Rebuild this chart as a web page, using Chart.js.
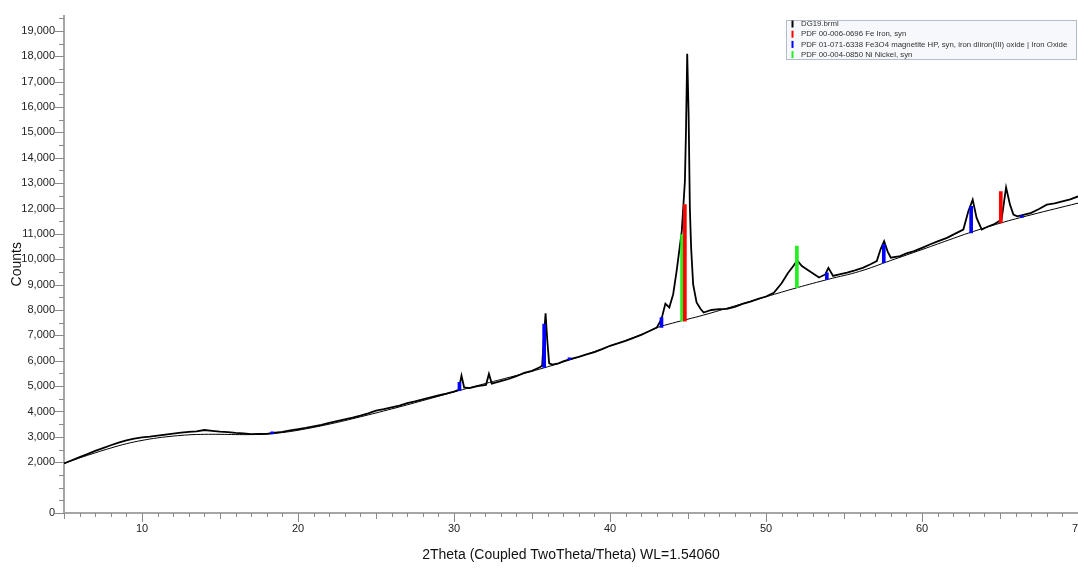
<!DOCTYPE html>
<html>
<head>
<meta charset="utf-8">
<script src="https://cdn.jsdelivr.net/npm/chart.js@4.4.1/dist/chart.umd.min.js"></script>
<style>
  html, body { margin: 0; padding: 0; background: #fff; }
  #wrap { width: 1078px; height: 569px; position: relative; }
</style>
</head>
<body>
<div id="wrap"><canvas id="xrd"></canvas></div>
<script>
const scanAngle = [
  5.0, 5.5, 6.0, 6.5, 7.0, 7.5, 8.0, 8.5, 9.0, 9.5, 10.0, 10.5, 11.0, 11.5, 12.0, 12.5,
  13.0, 13.5, 14.0, 14.5, 15.0, 15.5, 16.0, 16.5, 17.0, 17.5, 18.0, 18.4, 19.0, 19.5,
  20.0, 20.5, 21.0, 21.5, 22.0, 22.5, 23.0, 23.5, 24.0, 24.5, 25.0, 25.5, 26.0, 26.5,
  27.0, 27.5, 28.0, 28.5, 29.0, 29.5, 30.0, 30.3, 30.48, 30.65, 31.0, 31.5, 32.05, 32.24,
  32.42, 33.0, 33.5, 34.0, 34.5, 35.0, 35.5, 35.65, 35.75, 35.87, 35.98, 36.1, 36.3, 36.7,
  37.0, 37.5, 38.0, 38.5, 39.0, 39.5, 40.0, 40.5, 41.0, 41.5, 42.0, 42.5, 43.0, 43.3,
  43.55, 43.8, 44.05, 44.27, 44.6, 44.8, 44.87, 44.95, 45.04, 45.12, 45.2, 45.33, 45.55,
  45.8, 46.0, 46.5, 47.0, 47.5, 48.0, 48.5, 49.0, 49.5, 50.0, 50.5, 51.0, 51.4, 51.75,
  52.0, 52.3, 52.8, 53.4, 53.8, 54.0, 54.3, 54.7, 55.2, 55.7, 56.2, 56.7, 57.1, 57.35,
  57.57, 57.8, 58.0, 58.6, 59.0, 59.5, 60.0, 60.5, 61.0, 61.6, 62.1, 62.65, 62.97, 63.25,
  63.5, 63.83, 64.2, 64.6, 65.1, 65.39, 65.64, 65.86, 66.1, 66.5, 67.0, 67.5, 68.0, 68.5,
  69.0, 69.5, 70.0
];
const scanCounts = [
  1950, 2080, 2200, 2320, 2450, 2560, 2670, 2770, 2860, 2930, 2980, 3010, 3050, 3090, 3130, 3170,
  3200, 3220, 3270, 3240, 3210, 3190, 3160, 3140, 3110, 3120, 3120, 3160, 3200, 3260,
  3300, 3350, 3410, 3470, 3550, 3620, 3690, 3760, 3840, 3930, 4030, 4090, 4160, 4230,
  4330, 4400, 4480, 4560, 4630, 4700, 4780, 4850, 5410, 4950, 4920, 5000, 5050, 5480,
  5100, 5200, 5280, 5390, 5520, 5600, 5740, 5800, 6800, 7870, 6800, 5900, 5850, 5900,
  5980, 6070, 6150, 6250, 6340, 6460, 6590, 6680, 6780, 6900, 7020, 7160, 7310, 7640,
  8250, 8100, 8620, 9530, 11100, 13060, 15020, 18100, 15680, 12000, 10450, 9010, 8300,
  8050, 7900, 8000, 8030, 8040, 8120, 8240, 8330, 8440, 8530, 8680, 9050, 9450, 9730,
  9950, 9730, 9530, 9280, 9400, 9660, 9340, 9400, 9470, 9560, 9660, 9800, 9930, 10400,
  10710, 10300, 10060, 10120, 10230, 10320, 10450, 10580, 10700, 10840, 11000, 11170, 11890, 12345,
  11630, 11170, 11280, 11370, 11560, 12830, 12150, 11760, 11690, 11750, 11830, 11980, 12150, 12200,
  12280, 12360, 12475
];

// fitted background
const bgAngle = [5, 6, 7, 8, 9, 10, 11, 12, 13, 14, 15, 16, 17, 18, 19, 20, 22, 24, 26, 28, 30,
  32, 34, 36, 38, 40, 42, 43, 44, 46, 48, 50, 52, 54, 56, 58, 60, 62, 63, 65, 67, 70];
const bgCounts = [1950, 2170, 2370, 2560, 2730, 2860, 2960, 3030, 3080, 3100, 3100, 3090, 3090,
  3110, 3170, 3260, 3500, 3790, 4100, 4430, 4770, 5100, 5420, 5760, 6150, 6580, 7030, 7300, 7480,
  7800, 8160, 8520, 8880, 9210, 9520, 9950, 10380, 10820, 11035, 11420, 11750, 12210];

// reference pattern sticks: position, foot, top
const feAngle = [44.8, 65.05];
const feFoot = [7560, 11430];
const feTop = [12150, 12670];

const magAngle = [18.35, 30.35, 35.78, 37.4, 43.3, 53.9, 57.55, 63.15, 66.4];
const magFoot = [3120, 4825, 5739, 6040, 7310, 9207, 9860, 11035, 11650];
const magTop = [3200, 5150, 7442, 6110, 7700, 9467, 10580, 12083, 11720];

const niAngle = [44.62, 51.98];
const niFoot = [7571, 8880];
const niTop = [10973, 10514];

const yTickLabels = [0, 2000, 3000, 4000, 5000, 6000, 7000, 8000, 9000, 10000,
  11000, 12000, 13000, 14000, 15000, 16000, 17000, 18000, 19000];

const pts = (xs, ys) => xs.map((x, i) => ({ x: x, y: ys[i] }));
const sticks = (xs, lo, hi) => xs.map((x, i) => ({ x: x, y: [lo[i], hi[i]] }));

const tickMarks = {
  id: 'tickMarks',
  afterDraw(chart) {
    const ctx = chart.ctx, xs = chart.scales.x, ys = chart.scales.y;
    const a = chart.chartArea;
    ctx.save();
    ctx.strokeStyle = '#8a8a8a';
    ctx.lineWidth = 1;
    ctx.beginPath();
    for (let v = 0; v <= 19500; v += 500) {
      const p = Math.round(ys.getPixelForValue(v)) + 0.5;
      const len = yTickLabels.includes(v) ? 9 : 5;
      ctx.moveTo(a.left - len, p);
      ctx.lineTo(a.left, p);
    }
    for (let v = 5; v <= 70; v += 1) {
      const p = Math.round(xs.getPixelForValue(v)) + 0.5;
      const len = v % 10 === 0 ? 9 : (v % 5 === 0 ? 6 : 4);
      ctx.moveTo(p, a.bottom);
      ctx.lineTo(p, a.bottom + len);
    }
    ctx.stroke();
    ctx.restore();
  }
};

const boxLegend = {
  id: 'boxLegend',
  afterDraw(chart) {
    const ctx = chart.ctx;
    const items = chart.data.datasets.filter(d => d.legendRow !== undefined)
      .sort((a, b) => a.legendRow - b.legendRow);
    ctx.save();
    ctx.fillStyle = '#f6f8fb';
    ctx.fillRect(786, 20, 290, 39);
    ctx.strokeStyle = '#b4bccb';
    ctx.lineWidth = 1;
    ctx.strokeRect(786.5, 20.5, 290, 39);
    ctx.font = '7.8px "Liberation Sans", Arial, sans-serif';
    ctx.textBaseline = 'middle';
    items.forEach((d, i) => {
      const y = 24 + i * 10.2;
      ctx.fillStyle = d.legendColor;
      ctx.fillRect(791.5, y - 3.5, 2, 7);
      ctx.fillStyle = '#333';
      ctx.fillText(d.label, 801, y);
    });
    ctx.restore();
  }
};

new Chart(document.getElementById('xrd'), {
  type: 'line',
  data: {
    datasets: [
      { type: 'bar', label: 'PDF 00-006-0696 Fe Iron, syn', data: sticks(feAngle, feFoot, feTop),
        backgroundColor: '#ff0000', barThickness: 3, grouped: false, order: 0,
        legendRow: 1, legendColor: '#ff0000' },
      { type: 'bar', label: 'PDF 01-071-6338 Fe3O4 magnetite HP, syn, iron diiron(III) oxide | Iron Oxide',
        data: sticks(magAngle, magFoot, magTop),
        backgroundColor: '#0000ff', barThickness: 3, grouped: false, order: 0,
        legendRow: 2, legendColor: '#0000ff' },
      { type: 'bar', label: 'PDF 00-004-0850 Ni Nickel, syn', data: sticks(niAngle, niFoot, niTop),
        backgroundColor: '#22ee22', barThickness: 3, grouped: false, order: 0,
        legendRow: 3, legendColor: '#22ee22' },
      { label: 'DG19.brml', data: pts(scanAngle, scanCounts), borderColor: '#000',
        borderWidth: 1.8, pointRadius: 0, tension: 0, order: 1,
        legendRow: 0, legendColor: '#000' },
      { label: 'background', data: pts(bgAngle, bgCounts), borderColor: '#000',
        borderWidth: 1, pointRadius: 0, tension: 0.4, order: 2 }
    ]
  },
  options: {
    responsive: true,
    maintainAspectRatio: false,
    animation: false,
    layout: { padding: { top: 14, right: 0, left: 0, bottom: 0 } },
    plugins: { legend: { display: false }, tooltip: { enabled: false } },
    scales: {
      x: {
        type: 'linear', min: 5, max: 70, offset: false,
        grid: { display: false, drawTicks: false },
        border: { display: true, color: '#a6a6a6', width: 2 },
        ticks: { stepSize: 10, includeBounds: false, maxRotation: 0, padding: 9,
          color: '#222', font: { family: '"Liberation Sans", Arial, sans-serif', size: 11 } },
        title: { display: true, text: '2Theta (Coupled TwoTheta/Theta) WL=1.54060',
          color: '#111', padding: { top: 0, bottom: 5 },
          font: { family: '"Liberation Sans", Arial, sans-serif', size: 14 } },
        afterFit(s) { s.height = 56; s.paddingLeft = 0; s.paddingRight = 0; }
      },
      y: {
        type: 'linear', min: 0, max: 19600,
        grid: { display: false, drawTicks: false },
        border: { display: true, color: '#a6a6a6', width: 2 },
        afterBuildTicks(s) { s.ticks = yTickLabels.map(v => ({ value: v })); },
        ticks: { padding: 9, color: '#222',
          font: { family: '"Liberation Sans", Arial, sans-serif', size: 11 },
          callback: v => v.toLocaleString('en-US') },
        title: { display: true, text: 'Counts', color: '#111', padding: { top: 9, bottom: 0 },
          font: { family: '"Liberation Sans", Arial, sans-serif', size: 14 } },
        afterFit(s) { s.width = 64; }
      }
    }
  },
  plugins: [tickMarks, boxLegend]
});
</script>
</body>
</html>
